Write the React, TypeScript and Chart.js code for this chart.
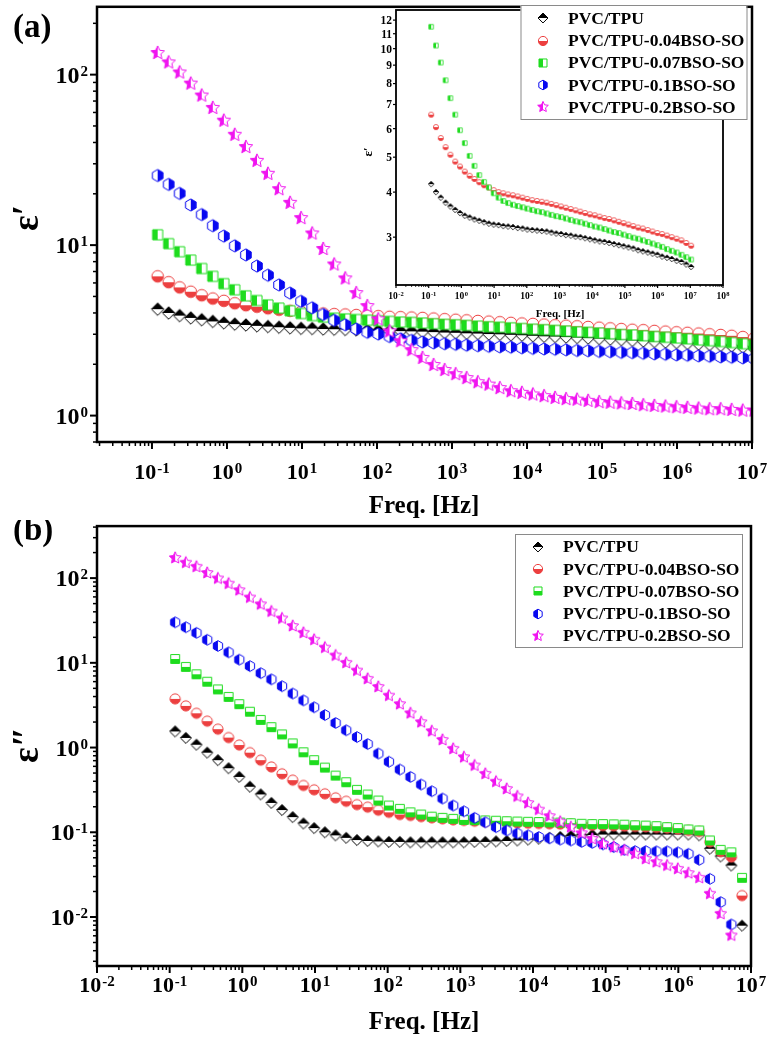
import React, { useEffect, useRef } from "react";
import { Chart, registerables } from "chart.js";

Chart.register(...registerables);

const FONT = '"Liberation Serif", "Times New Roman", Times, serif';

// Frequency grid (Hz)
const FREQ = [0.119, 0.167, 0.234, 0.329, 0.461, 0.647, 0.908, 1.27, 1.79, 2.51, 3.52, 4.94, 6.94, 9.74, 13.7, 19.2, 26.9, 37.8, 53.0, 74.4, 104, 147, 206, 289, 405, 569, 798, 1120, 1570, 2210, 3100, 4350, 6100, 8560, 12000, 16900, 23700, 33200, 46600, 65400, 91800, 129000, 181000, 254000, 356000, 500000, 702000, 985000, 1380000, 1940000, 2720000, 3820000, 5360000, 7530000, 10600000];

const SERIES = ["PVC/TPU", "PVC/TPU-0.04BSO-SO", "PVC/TPU-0.07BSO-SO", "PVC/TPU-0.1BSO-SO", "PVC/TPU-0.2BSO-SO"];
const COLORS = ["#000000", "#EC3F3F", "#1EDC1E", "#0808F0", "#F014F0"];

// (a) real permittivity ε′
const EPS1_PVC = [4.21, 4.00, 3.86, 3.74, 3.65, 3.57, 3.50, 3.44, 3.40, 3.36, 3.33, 3.30, 3.27, 3.25, 3.24, 3.22, 3.21, 3.20, 3.18, 3.17, 3.15, 3.14, 3.13, 3.12, 3.11, 3.09, 3.07, 3.06, 3.04, 3.03, 3.01, 3.00, 2.98, 2.96, 2.94, 2.92, 2.91, 2.89, 2.87, 2.85, 2.83, 2.81, 2.79, 2.76, 2.74, 2.72, 2.70, 2.68, 2.65, 2.63, 2.61, 2.58, 2.56, 2.52, 2.48];
const EPS1_004 = [6.56, 6.06, 5.65, 5.33, 5.08, 4.86, 4.71, 4.56, 4.44, 4.35, 4.26, 4.18, 4.12, 4.05, 4.00, 3.97, 3.94, 3.92, 3.89, 3.86, 3.83, 3.80, 3.78, 3.76, 3.74, 3.71, 3.68, 3.65, 3.62, 3.59, 3.56, 3.53, 3.50, 3.47, 3.45, 3.42, 3.39, 3.37, 3.34, 3.31, 3.28, 3.25, 3.22, 3.19, 3.17, 3.14, 3.11, 3.08, 3.06, 3.03, 3.00, 2.97, 2.94, 2.89, 2.84];
const EPS1_007 = [11.5, 10.2, 9.15, 8.17, 7.29, 6.56, 5.94, 5.47, 5.04, 4.73, 4.46, 4.27, 4.12, 3.97, 3.86, 3.78, 3.73, 3.69, 3.66, 3.63, 3.60, 3.57, 3.54, 3.52, 3.49, 3.46, 3.43, 3.41, 3.38, 3.35, 3.32, 3.30, 3.27, 3.24, 3.21, 3.19, 3.16, 3.13, 3.10, 3.08, 3.05, 3.02, 2.99, 2.97, 2.94, 2.91, 2.88, 2.85, 2.82, 2.78, 2.75, 2.72, 2.68, 2.64, 2.60];
const EPS1_01 = [25.6, 22.7, 20.1, 17.2, 15.1, 13.0, 11.3, 9.90, 8.76, 7.54, 6.66, 5.84, 5.23, 4.68, 4.29, 3.92, 3.62, 3.41, 3.22, 3.08, 3.01, 2.91, 2.82, 2.76, 2.70, 2.67, 2.64, 2.62, 2.59, 2.57, 2.55, 2.53, 2.52, 2.50, 2.48, 2.46, 2.45, 2.43, 2.41, 2.40, 2.38, 2.37, 2.35, 2.34, 2.32, 2.30, 2.29, 2.27, 2.26, 2.24, 2.23, 2.21, 2.20, 2.18, 2.16];
const EPS1_02 = [134, 118, 103, 88.6, 75.4, 63.8, 53.7, 44.4, 37.6, 31.2, 26.2, 21.3, 17.7, 14.4, 11.7, 9.49, 7.70, 6.38, 5.23, 4.39, 3.67, 3.12, 2.73, 2.42, 2.18, 1.98, 1.85, 1.75, 1.66, 1.57, 1.52, 1.45, 1.39, 1.36, 1.33, 1.30, 1.27, 1.25, 1.24, 1.22, 1.20, 1.19, 1.18, 1.17, 1.15, 1.14, 1.13, 1.12, 1.11, 1.10, 1.09, 1.09, 1.08, 1.07, 1.07];

// (b) imaginary permittivity ε″
const EPS2_PVC = [1.55, 1.30, 1.08, 0.87, 0.71, 0.57, 0.45, 0.345, 0.28, 0.222, 0.183, 0.151, 0.127, 0.112, 0.100, 0.092, 0.086, 0.081, 0.079, 0.078, 0.077, 0.077, 0.076, 0.076, 0.076, 0.076, 0.076, 0.076, 0.077, 0.077, 0.078, 0.079, 0.080, 0.082, 0.084, 0.086, 0.088, 0.090, 0.092, 0.093, 0.094, 0.094, 0.094, 0.094, 0.094, 0.094, 0.094, 0.094, 0.094, 0.092, 0.0638, 0.0518, 0.0405, 0.0079];
const EPS2_004 = [3.75, 3.10, 2.54, 2.05, 1.65, 1.31, 1.07, 0.87, 0.71, 0.59, 0.489, 0.412, 0.357, 0.317, 0.284, 0.255, 0.232, 0.212, 0.198, 0.182, 0.172, 0.162, 0.158, 0.153, 0.148, 0.144, 0.140, 0.138, 0.135, 0.133, 0.132, 0.130, 0.129, 0.128, 0.127, 0.126, 0.125, 0.124, 0.122, 0.121, 0.120, 0.119, 0.118, 0.117, 0.116, 0.114, 0.112, 0.109, 0.105, 0.102, 0.077, 0.059, 0.051, 0.0179];
const EPS2_007 = [11.1, 8.95, 7.33, 5.98, 4.86, 3.96, 3.25, 2.65, 2.12, 1.74, 1.43, 1.12, 0.88, 0.71, 0.58, 0.467, 0.390, 0.317, 0.279, 0.237, 0.207, 0.189, 0.172, 0.162, 0.153, 0.148, 0.144, 0.140, 0.139, 0.138, 0.137, 0.135, 0.134, 0.133, 0.132, 0.131, 0.130, 0.128, 0.126, 0.125, 0.125, 0.124, 0.123, 0.121, 0.120, 0.118, 0.115, 0.112, 0.108, 0.105, 0.080, 0.062, 0.058, 0.029];
const EPS2_01 = [30.1, 26.3, 22.6, 18.7, 15.8, 13.3, 10.9, 9.15, 7.55, 6.38, 5.30, 4.34, 3.60, 2.99, 2.42, 1.95, 1.60, 1.33, 1.10, 0.85, 0.68, 0.55, 0.45, 0.366, 0.305, 0.250, 0.207, 0.177, 0.148, 0.131, 0.115, 0.105, 0.097, 0.092, 0.088, 0.085, 0.082, 0.080, 0.077, 0.075, 0.072, 0.067, 0.062, 0.060, 0.060, 0.0596, 0.0596, 0.058, 0.0557, 0.0473, 0.0282, 0.0150, 0.00816];
const EPS2_02 = [173, 152, 136, 115, 99, 86, 72, 59, 49, 40.3, 33.4, 27.2, 22.6, 18.7, 15.1, 12.2, 10.0, 8.1, 6.47, 5.2, 4.1, 3.25, 2.54, 1.99, 1.56, 1.23, 0.966, 0.769, 0.613, 0.489, 0.395, 0.325, 0.265, 0.221, 0.185, 0.155, 0.133, 0.115, 0.0975, 0.0836, 0.0730, 0.0667, 0.0609, 0.0557, 0.0486, 0.0444, 0.0405, 0.0370, 0.0329, 0.0290, 0.0188, 0.0109, 0.00605];

// Tick labels (decade exponents)
const A_X_EXPS = [-1, 0, 1, 2, 3, 4, 5, 6, 7];
const A_Y_EXPS = [0, 1, 2];
const B_X_EXPS = [-2, -1, 0, 1, 2, 3, 4, 5, 6, 7];
const B_Y_EXPS = [-2, -1, 0, 1, 2];
const INSET_X_EXPS = [-2, -1, 0, 1, 2, 3, 4, 5, 6, 7, 8];
const INSET_Y_TICKS = [3, 4, 5, 6, 7, 8, 9, 10, 11, 12];

type Shape = "diamond" | "circle" | "square" | "hexagon" | "star";
type Half = "top" | "bottom" | "left" | "right";
interface MarkerSpec { shape: Shape; half: Half }

const A_MARKERS: MarkerSpec[] = [
  { shape: "diamond", half: "top" },
  { shape: "circle", half: "bottom" },
  { shape: "square", half: "left" },
  { shape: "hexagon", half: "right" },
  { shape: "star", half: "left" },
];
const B_MARKERS: MarkerSpec[] = [
  { shape: "diamond", half: "top" },
  { shape: "circle", half: "bottom" },
  { shape: "square", half: "bottom" },
  { shape: "hexagon", half: "left" },
  { shape: "star", half: "left" },
];

function shapePath(ctx: CanvasRenderingContext2D, shape: Shape, cx: number, cy: number, r: number) {
  ctx.beginPath();
  if (shape === "circle") {
    ctx.arc(cx, cy, r, 0, Math.PI * 2);
  } else if (shape === "diamond") {
    const d = r * 1.08;
    ctx.moveTo(cx, cy - d);
    ctx.lineTo(cx + d, cy);
    ctx.lineTo(cx, cy + d);
    ctx.lineTo(cx - d, cy);
  } else if (shape === "square") {
    const h = r * 0.87;
    ctx.rect(cx - h, cy - h, 2 * h, 2 * h);
  } else if (shape === "hexagon") {
    const R = r * 1.05;
    for (let k = 0; k < 6; k++) {
      const a = ((-90 + 60 * k) * Math.PI) / 180;
      const px = cx + R * Math.cos(a);
      const py = cy + R * Math.sin(a);
      if (k === 0) ctx.moveTo(px, py);
      else ctx.lineTo(px, py);
    }
  } else {
    const Ro = r * 1.22;
    const Ri = r * 0.58;
    for (let k = 0; k < 10; k++) {
      const a = ((-90 + 36 * k) * Math.PI) / 180;
      const R = k % 2 ? Ri : Ro;
      const px = cx + R * Math.cos(a);
      const py = cy + R * Math.sin(a);
      if (k === 0) ctx.moveTo(px, py);
      else ctx.lineTo(px, py);
    }
  }
  ctx.closePath();
}

function makeMarker(spec: MarkerSpec, r: number, color: string, lw: number): HTMLCanvasElement {
  const s = 2 * Math.ceil(r * 1.3 + lw) + 2;
  const c = document.createElement("canvas");
  c.width = s;
  c.height = s;
  const ctx = c.getContext("2d") as CanvasRenderingContext2D;
  const m = s / 2;
  shapePath(ctx, spec.shape, m, m, r);
  ctx.fillStyle = "#ffffff";
  ctx.fill();
  ctx.save();
  ctx.beginPath();
  if (spec.half === "top") ctx.rect(0, 0, s, m);
  else if (spec.half === "bottom") ctx.rect(0, m, s, m);
  else if (spec.half === "left") ctx.rect(0, 0, m, s);
  else ctx.rect(m, 0, m, s);
  ctx.clip();
  shapePath(ctx, spec.shape, m, m, r);
  ctx.fillStyle = color;
  ctx.fill();
  ctx.restore();
  shapePath(ctx, spec.shape, m, m, r);
  ctx.lineWidth = lw;
  ctx.strokeStyle = color;
  ctx.stroke();
  return c;
}

function drawPow(ctx: CanvasRenderingContext2D, exp: number, x: number, yc: number, fs: number, ss: number, align: "center" | "right") {
  const base = "10";
  const es = String(exp);
  ctx.font = `bold ${fs}px ${FONT}`;
  const wb = ctx.measureText(base).width;
  ctx.font = `bold ${ss}px ${FONT}`;
  const we = ctx.measureText(es).width;
  const gap = fs * 0.04;
  const total = wb + gap + we;
  const x0 = align === "center" ? x - total / 2 : x - total;
  ctx.textAlign = "left";
  ctx.textBaseline = "alphabetic";
  ctx.font = `bold ${fs}px ${FONT}`;
  ctx.fillText(base, x0, yc + fs * 0.34);
  ctx.font = `bold ${ss}px ${FONT}`;
  ctx.fillText(es, x0 + wb + gap, yc + fs * 0.05);
}

function logTicks(min: number, max: number) {
  const out: { v: number; major: boolean }[] = [];
  const e0 = Math.floor(Math.log10(min));
  const e1 = Math.ceil(Math.log10(max));
  for (let e = e0; e <= e1; e++) {
    for (let m = 1; m <= 9; m++) {
      const v = m * Math.pow(10, e);
      if (v >= min * 0.9999 && v <= max * 1.0001) out.push({ v, major: m === 1 });
    }
  }
  return out;
}

interface LegendCfg {
  x: number; y: number; w: number; h: number;
  mx: number; tx: number; y0: number; dy: number; fs: number;
  items: { img: HTMLCanvasElement; label: string }[];
}
interface PanelCfg {
  id: string;
  frameW: number; majLen: number; minLen: number; majW: number; minW: number;
  x: { exps: number[]; fs: number; ss: number; pos: number };
  yPow?: { exps: number[]; fs: number; ss: number; pos: number };
  yLin?: { ticks: number[]; fs: number; pos: number };
  xTitle: { text: string; x: number; y: number; fs: number };
  yTitle: { text: string; x: number; y: number; fs: number };
  tag?: { text: string; x: number; y: number; fs: number };
  legend?: LegendCfg;
  fillPlot?: boolean;
}

function panelPlugin(cfg: PanelCfg) {
  return {
    id: cfg.id,
    beforeDatasetsDraw(chart: any) {
      if (!cfg.fillPlot) return;
      const { left, right, top, bottom } = chart.chartArea;
      const ctx = chart.ctx;
      ctx.save();
      ctx.fillStyle = "#ffffff";
      ctx.fillRect(left, top, right - left, bottom - top);
      ctx.restore();
    },
    afterDraw(chart: any) {
      const ctx: CanvasRenderingContext2D = chart.ctx;
      const { left, right, top, bottom } = chart.chartArea;
      const xs = chart.scales.x;
      const ys = chart.scales.y;
      ctx.save();
      ctx.strokeStyle = "#000";
      ctx.fillStyle = "#000";
      for (const t of logTicks(xs.min, xs.max)) {
        const px = xs.getPixelForValue(t.v);
        ctx.lineWidth = t.major ? cfg.majW : cfg.minW;
        ctx.beginPath();
        ctx.moveTo(px, bottom);
        ctx.lineTo(px, bottom + (t.major ? cfg.majLen : cfg.minLen));
        ctx.stroke();
      }
      if (cfg.yPow) {
        for (const t of logTicks(ys.min, ys.max)) {
          const py = ys.getPixelForValue(t.v);
          ctx.lineWidth = t.major ? cfg.majW : cfg.minW;
          ctx.beginPath();
          ctx.moveTo(left, py);
          ctx.lineTo(left - (t.major ? cfg.majLen : cfg.minLen), py);
          ctx.stroke();
        }
      }
      if (cfg.yLin) {
        for (const v of cfg.yLin.ticks) {
          const py = ys.getPixelForValue(v);
          ctx.lineWidth = cfg.majW;
          ctx.beginPath();
          ctx.moveTo(left, py);
          ctx.lineTo(left - cfg.majLen, py);
          ctx.stroke();
        }
      }
      ctx.lineWidth = cfg.frameW;
      ctx.strokeRect(left, top, right - left, bottom - top);
      for (const e of cfg.x.exps) {
        drawPow(ctx, e, xs.getPixelForValue(Math.pow(10, e)), cfg.x.pos, cfg.x.fs, cfg.x.ss, "center");
      }
      if (cfg.yPow) {
        for (const e of cfg.yPow.exps) {
          drawPow(ctx, e, cfg.yPow.pos, ys.getPixelForValue(Math.pow(10, e)), cfg.yPow.fs, cfg.yPow.ss, "right");
        }
      }
      if (cfg.yLin) {
        ctx.font = `bold ${cfg.yLin.fs}px ${FONT}`;
        ctx.textAlign = "right";
        ctx.textBaseline = "alphabetic";
        for (const v of cfg.yLin.ticks) {
          ctx.fillText(String(v), cfg.yLin.pos, ys.getPixelForValue(v) + cfg.yLin.fs * 0.34);
        }
      }
      ctx.font = `bold ${cfg.xTitle.fs}px ${FONT}`;
      ctx.textAlign = "center";
      ctx.textBaseline = "alphabetic";
      ctx.fillText(cfg.xTitle.text, cfg.xTitle.x, cfg.xTitle.y);
      ctx.save();
      ctx.translate(cfg.yTitle.x, cfg.yTitle.y);
      ctx.rotate(-Math.PI / 2);
      ctx.font = `bold ${cfg.yTitle.fs}px ${FONT}`;
      ctx.textAlign = "center";
      ctx.textBaseline = "middle";
      ctx.fillText(cfg.yTitle.text, 0, 0);
      ctx.restore();
      if (cfg.tag) {
        ctx.font = `bold ${cfg.tag.fs}px ${FONT}`;
        ctx.textAlign = "left";
        ctx.textBaseline = "alphabetic";
        ctx.fillText(cfg.tag.text, cfg.tag.x, cfg.tag.y);
      }
      if (cfg.legend) {
        const L = cfg.legend;
        ctx.fillStyle = "#ffffff";
        ctx.fillRect(L.x, L.y, L.w, L.h);
        ctx.strokeStyle = "#8a8a8a";
        ctx.lineWidth = 1;
        ctx.strokeRect(L.x + 0.5, L.y + 0.5, L.w, L.h);
        ctx.fillStyle = "#000";
        ctx.font = `bold ${L.fs}px ${FONT}`;
        ctx.textAlign = "left";
        ctx.textBaseline = "middle";
        L.items.forEach((it, i) => {
          const y = L.y0 + i * L.dy;
          ctx.drawImage(it.img, Math.round(L.mx - it.img.width / 2), Math.round(y - it.img.height / 2));
          ctx.fillText(it.label, L.tx, y + 1);
        });
      }
      ctx.restore();
    },
  };
}

function seriesData(values: number[]) {
  return values.map((v, i) => ({ x: FREQ[i], y: v }));
}

export default function App() {
  const aRef = useRef<HTMLCanvasElement>(null);
  const insetRef = useRef<HTMLCanvasElement>(null);
  const bRef = useRef<HTMLCanvasElement>(null);

  useEffect(() => {
    const charts: Chart[] = [];
    const aVals = [EPS1_PVC, EPS1_004, EPS1_007, EPS1_01, EPS1_02];
    const bVals = [EPS2_PVC, EPS2_004, EPS2_007, EPS2_01, EPS2_02];

    const mkDatasets = (vals: number[][], specs: MarkerSpec[], r: number, lw: number, clip: any) =>
      vals.map((v, i) => ({
        label: SERIES[i],
        data: seriesData(v),
        pointStyle: makeMarker(specs[i], r, COLORS[i], lw),
        pointRadius: r,
        showLine: false,
        order: 10 - i,
        clip,
      }));

    const baseOptions = (pad: any, xmin: number, xmax: number, ymin: number, ymax: number) => ({
      animation: false as const,
      responsive: false,
      maintainAspectRatio: false,
      devicePixelRatio: 1,
      events: [] as any[],
      layout: { padding: pad },
      scales: {
        x: { type: "logarithmic" as const, min: xmin, max: xmax, display: false },
        y: { type: "logarithmic" as const, min: ymin, max: ymax, display: false },
      },
      plugins: { legend: { display: false }, tooltip: { enabled: false }, title: { display: false } },
    });

    if (aRef.current) {
      charts.push(
        new Chart(aRef.current, {
          type: "scatter",
          data: { datasets: mkDatasets(aVals, A_MARKERS, 5.8, 1, 0) as any },
          options: baseOptions({ left: 97, right: 22, top: 3, bottom: 78 }, 0.0185, 1e7, 0.748, 250) as any,
          plugins: [
            panelPlugin({
              id: "panelA",
              frameW: 2.5, majLen: 7, minLen: 4, majW: 2, minW: 1.5,
              x: { exps: A_X_EXPS, fs: 22, ss: 15, pos: 472 },
              yPow: { exps: A_Y_EXPS, fs: 24, ss: 15, pos: 88 },
              xTitle: { text: "Freq. [Hz]", x: 424, y: 513, fs: 25 },
              yTitle: { text: "ε′", x: 28, y: 218, fs: 37 },
              tag: { text: "(a)", x: 13, y: 37, fs: 33 },
            }) as any,
          ],
        })
      );
    }

    if (insetRef.current) {
      const legendItems = SERIES.map((s, i) => ({ img: makeMarker(A_MARKERS[i], 4.6, COLORS[i], 1), label: s }));
      charts.push(
        new Chart(insetRef.current, {
          type: "scatter",
          data: { datasets: mkDatasets([EPS1_PVC, EPS1_004, EPS1_007], A_MARKERS, 2.6, 0.8, false) as any },
          options: baseOptions({ left: 46, right: 32, top: 10, bottom: 40 }, 0.01, 1e8, 2.21, 12.8) as any,
          plugins: [
            panelPlugin({
              id: "inset",
              frameW: 1.8, majLen: 3, minLen: 2, majW: 1.2, minW: 0.8,
              x: { exps: INSET_X_EXPS, fs: 9.5, ss: 6.5, pos: 296 },
              yLin: { ticks: INSET_Y_TICKS, fs: 11.5, pos: 42 },
              xTitle: { text: "Freq. [Hz]", x: 210, y: 317, fs: 11 },
              yTitle: { text: "ε′", x: 19, y: 152, fs: 13 },
              fillPlot: true,
              legend: { x: 170.5, y: 5, w: 226, h: 114, mx: 193, tx: 218, y0: 18.3, dy: 22.25, fs: 17.5, items: legendItems },
            }) as any,
          ],
        })
      );
    }

    if (bRef.current) {
      const legendItems = SERIES.map((s, i) => ({ img: makeMarker(B_MARKERS[i], 4.6, COLORS[i], 1), label: s }));
      charts.push(
        new Chart(bRef.current, {
          type: "scatter",
          data: { datasets: mkDatasets(bVals, B_MARKERS, 5.1, 1, false) as any },
          options: baseOptions({ left: 97, right: 23, top: 6, bottom: 86 }, 0.01, 1e7, 0.00264, 411) as any,
          plugins: [
            panelPlugin({
              id: "panelB",
              frameW: 2.5, majLen: 7, minLen: 4, majW: 2, minW: 1.5,
              x: { exps: B_X_EXPS, fs: 22, ss: 15, pos: 465 },
              yPow: { exps: B_Y_EXPS, fs: 24, ss: 15, pos: 88 },
              xTitle: { text: "Freq. [Hz]", x: 424, y: 509, fs: 25 },
              yTitle: { text: "ε″", x: 28, y: 225, fs: 37 },
              tag: { text: "(b)", x: 13, y: 20, fs: 33 },
              legend: { x: 515, y: 14, w: 227, h: 113, mx: 538, tx: 563, y0: 26.7, dy: 22.3, fs: 17.5, items: legendItems },
            }) as any,
          ],
        })
      );
    }

    return () => {
      charts.forEach((c) => c.destroy());
    };
  }, []);

  return (
    <div style={{ position: "absolute", left: 0, top: 0, width: 774, height: 1052, background: "#ffffff", overflow: "hidden" }}>
      <canvas ref={aRef} width={774} height={520} style={{ position: "absolute", left: 0, top: 0, width: 774, height: 520 }} />
      <canvas ref={insetRef} width={405} height={325} style={{ position: "absolute", left: 350, top: 0, width: 405, height: 325 }} />
      <canvas ref={bRef} width={774} height={532} style={{ position: "absolute", left: 0, top: 520, width: 774, height: 532 }} />
    </div>
  );
}
